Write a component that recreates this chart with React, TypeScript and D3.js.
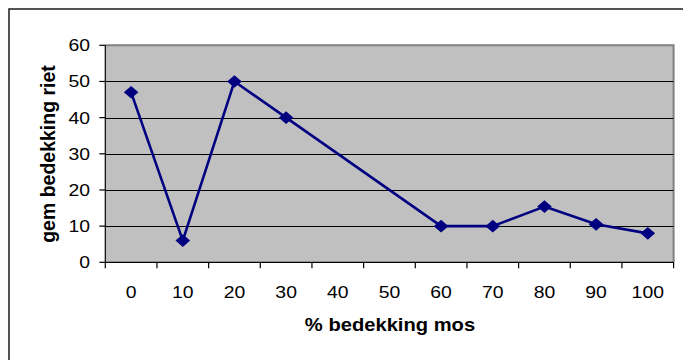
import React from "react";
import * as d3 from "d3";

// Moss cover classes (%) and the mean reed cover measured in each
const categories: string[] = ["0", "10", "20", "30", "40", "50", "60", "70", "80", "90", "100"];
const reedCover: (number | null)[] = [47, 6, 50, 40, null, null, 10, 10, 15.4, 10.5, 8];
const yTicks: number[] = [0, 10, 20, 30, 40, 50, 60];

const xTitle = "% bedekking mos";
const yTitle = "gem bedekking riet";

const W = 683;
const H = 360;
const plot = { left: 105.3, right: 673.6, top: 45.3, bottom: 262.3 };
// glyphs are drawn slightly wide, as in the exported chart
const STRETCH = 1.14;

export default function App() {
  const x = d3
    .scaleBand<string>()
    .domain(categories)
    .range([plot.left, plot.right])
    .paddingInner(0)
    .paddingOuter(0);
  const y = d3.scaleLinear().domain([0, 60]).range([plot.bottom, plot.top]);

  const points = categories
    .map((c, i) => ({ c, v: reedCover[i] }))
    .filter((d) => d.v !== null) as { c: string; v: number }[];

  const cx = (c: string) => (x(c) as number) + x.bandwidth() / 2;

  const line = d3
    .line<{ c: string; v: number }>()
    .x((d) => cx(d.c))
    .y((d) => y(d.v));

  // diamond marker, a little wider than tall
  const rx = 7.3;
  const ry = 6.3;
  const diamond = `M0,${-ry}L${rx},0L0,${ry}L${-rx},0Z`;

  const font = "'Liberation Sans', Arial, sans-serif";

  return (
    <svg
      width={W}
      height={H}
      style={{ position: "absolute", left: 0, top: 0, background: "#fff" }}
      fontFamily={font}
    >
      {/* chart frame */}
      <rect x={9} y={9} width={720} height={400} fill="#fff" stroke="#2a2a2a" strokeWidth={1.6} />

      {/* plot area */}
      <rect
        x={plot.left}
        y={plot.top}
        width={plot.right - plot.left}
        height={plot.bottom - plot.top}
        fill="#C0C0C0"
      />
      <path
        d={`M${plot.left},${plot.top}H${plot.right}V${plot.bottom}`}
        fill="none"
        stroke="#808080"
        strokeWidth={2}
      />

      {/* gridlines */}
      {yTicks
        .filter((t) => t > 0 && t < 60)
        .map((t) => (
          <line
            key={t}
            x1={plot.left}
            x2={plot.right}
            y1={Math.round(y(t)) + 0.5}
            y2={Math.round(y(t)) + 0.5}
            stroke="#000"
            strokeWidth={1}
          />
        ))}

      {/* y axis */}
      <line x1={plot.left} x2={plot.left} y1={plot.top} y2={plot.bottom} stroke="#000" strokeWidth={1.2} />
      {yTicks.map((t) => (
        <g key={t}>
          <line x1={plot.left - 6} x2={plot.left} y1={y(t)} y2={y(t)} stroke="#000" strokeWidth={1.2} />
          <text
            transform={`translate(90,${y(t) + 6}) scale(${STRETCH},1)`}
            textAnchor="end"
            fontSize={17}
            fill="#000"
          >
            {t}
          </text>
        </g>
      ))}

      {/* x axis */}
      <line x1={plot.left} x2={plot.right} y1={plot.bottom} y2={plot.bottom} stroke="#000" strokeWidth={1.2} />
      {categories.map((c) => (
        <line
          key={"t" + c}
          x1={x(c) as number}
          x2={x(c) as number}
          y1={plot.bottom}
          y2={plot.bottom + 6}
          stroke="#000"
          strokeWidth={1.2}
        />
      ))}
      <line x1={plot.right} x2={plot.right} y1={plot.bottom} y2={plot.bottom + 6} stroke="#000" strokeWidth={1.2} />
      {categories.map((c) => (
        <text
          key={"l" + c}
          transform={`translate(${cx(c)},298) scale(${STRETCH},1)`}
          textAnchor="middle"
          fontSize={17}
          fill="#000"
        >
          {c}
        </text>
      ))}

      {/* series */}
      <path d={line(points) || ""} fill="none" stroke="#000080" strokeWidth={2.6} strokeLinejoin="round" />
      {points.map((d) => (
        <path key={d.c} d={diamond} transform={`translate(${cx(d.c)},${y(d.v)})`} fill="#000080" />
      ))}

      {/* axis titles */}
      <text
        transform={`translate(390,331) scale(1.12,1)`}
        textAnchor="middle"
        fontSize={18}
        fontWeight="bold"
        fill="#000"
      >
        {xTitle}
      </text>
      <text
        transform={`translate(55,${(63 + 245) / 2}) rotate(-90)`}
        textAnchor="middle"
        fontSize={19.5}
        fontWeight="bold"
        fill="#000"
      >
        {yTitle}
      </text>
    </svg>
  );
}
